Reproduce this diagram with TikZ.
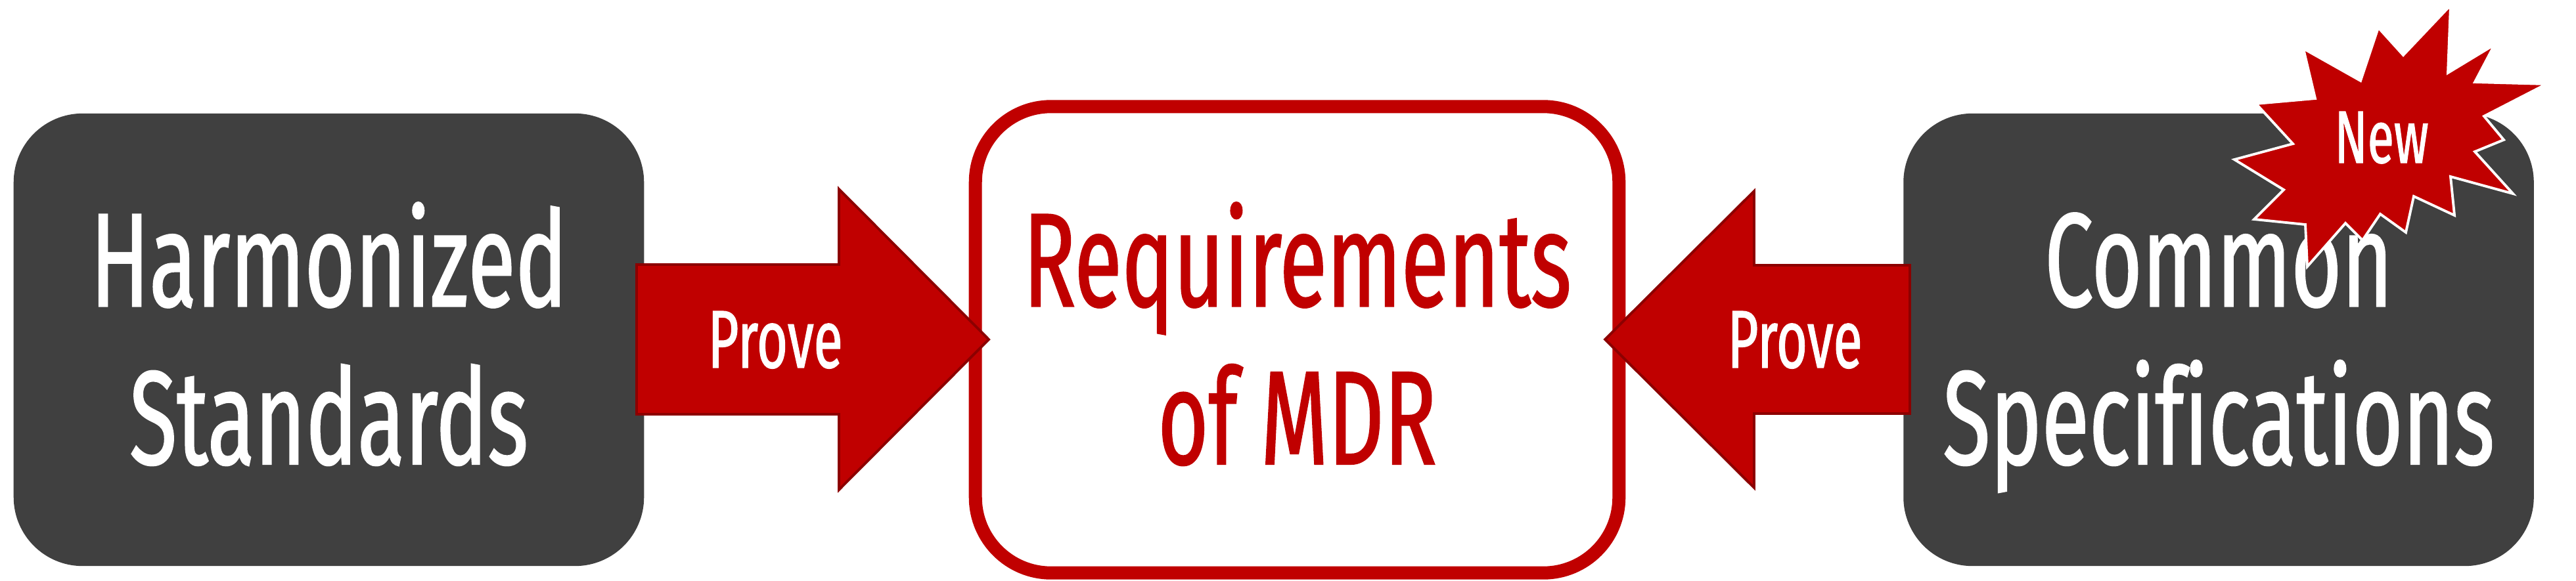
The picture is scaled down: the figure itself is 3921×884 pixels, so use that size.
\documentclass[tikz,border=0pt]{standalone}
\usepackage{fontspec}
\setmainfont{Fira Sans}[FakeStretch=0.65, FakeBold=1, Ligatures=NoCommon]
\definecolor{R1}{RGB}{192,0,0}
\definecolor{R2}{RGB}{140,0,0}
\definecolor{G1}{RGB}{64,64,64}
\tikzstyle{gbox}=[rounded corners=1.05cm, minimum width=9.59cm, minimum height=6.89cm, inner sep=0, fill=G1]
\tikzstyle{rbox}=[rounded corners=1.15cm, minimum width=9.79cm, minimum height=7.1cm, inner sep=0, draw=R1, line width=2mm, fill=white]
\tikzstyle{big}=[anchor=base, inner sep=0, font=\fontsize{57.8}{60}\selectfont]
\tikzstyle{prove}=[anchor=base, inner sep=0, text=white, font=\fontsize{35.5}{36}\selectfont]
\tikzstyle{arrow}=[fill=R1, draw=R2, line width=1.1pt, line join=miter]
\tikzstyle{burst}=[fill=R1, draw=white, line width=1.1pt, line join=miter]

\begin{document}
\begin{tikzpicture}[x=0.01cm, y=-0.01cm]
  \useasboundingbox (0,0) rectangle (3921,884);
  % three boxes
  \node[gbox] (hs) at (500.5,517.5) {};
  \node[big, white] (hs1) at (500.5,466.5) {Harmonized};
  \node[big, white] (hs2) at (500.5,707) {Standards};
  \node[rbox] (mdr) at (1974.5,517.5) {};
  \node[big, R1] (mdr1) at (1974.5,466.5) {Requirements};
  \node[big, R1] (mdr2) at (1974.5,707) {of MDR};
  \node[gbox] (cs) at (3377,517.5) {};
  \node[big, white] (cs1) at (3377,466.5) {Common};
  \node[big, white] (cs2) at (3377,707) {Specifications};
  % prove arrows
  \draw[arrow] (969,403) -- (1277,403) -- (1277,288) -- (1505,517) -- (1277,746) -- (1277,631) -- (969,631) -- cycle;
  \node[prove] (p1) at (1180,560) {Prove};
  \draw[arrow] (2907,404) -- (2670,404) -- (2670,291) -- (2443,517) -- (2670,743) -- (2670,630) -- (2907,630) -- cycle;
  \node[prove] (p2) at (2732,560) {Prove};
  % new burst
  \draw[burst] (3730,8) -- (3726,111) -- (3797,68) -- (3767,125) -- (3876,128) -- (3781,177) -- (3811,213) -- (3767,231)
    -- (3825,295) -- (3730,269) -- (3736,328) -- (3674,299) -- (3662,354) -- (3623,326) -- (3596,366) -- (3570,340)
    -- (3512,406) -- (3509,342) -- (3431,334) -- (3476,289) -- (3401,243) -- (3490,219) -- (3434,158) -- (3524,150)
    -- (3506,74) -- (3593,123) -- (3620,42) -- (3658,84) -- cycle;
  \node[anchor=base, inner sep=0, text=white, font=\fontsize{32.2}{33}\selectfont] (new) at (3625,248) {New};
\end{tikzpicture}
\end{document}
